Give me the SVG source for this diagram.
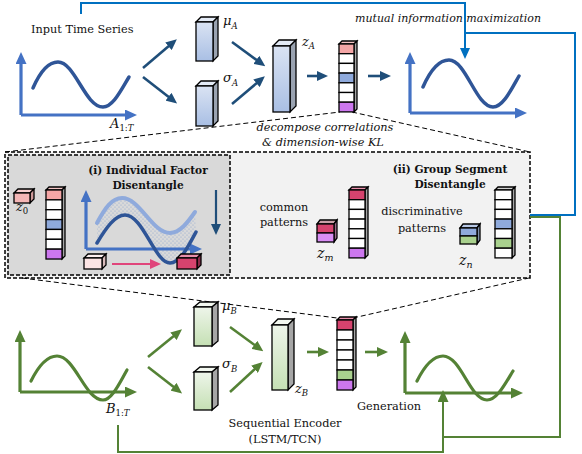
<svg xmlns="http://www.w3.org/2000/svg" width="582" height="454" viewBox="0 0 582 454" font-family="DejaVu Serif, serif">
<defs>
<style>
.t{font-size:11.3px;fill:#111}
.it{font-style:italic;fill:#111}
.b{font-weight:bold;font-size:10.6px;fill:#111}
.cell{stroke:#000;stroke-width:1.3}
.edge{stroke:#000;stroke-width:1.3}
.axb{fill:none;stroke:#4472c4;stroke-width:3.2}
.axg{fill:none;stroke:#548235;stroke-width:3.2}
.sinb{fill:none;stroke:#2f5597;stroke-width:3.5;stroke-linecap:round}
.sing{fill:none;stroke:#548235;stroke-width:3.2;stroke-linecap:round}
.ad{fill:none;stroke:#1f4e79;stroke-width:2.6}
.ag{fill:none;stroke:#548235;stroke-width:2.6}
.dash{fill:none;stroke:#000;stroke-width:1;stroke-dasharray:5,3}
</style>
<marker id="mAxB" markerUnits="userSpaceOnUse" markerWidth="12" markerHeight="11" refX="2" refY="5.5" orient="auto"><path d="M0,0 L12,5.5 L0,11 Z" fill="#4472c4"/></marker>
<marker id="mAxG" markerUnits="userSpaceOnUse" markerWidth="12" markerHeight="11" refX="2" refY="5.5" orient="auto"><path d="M0,0 L12,5.5 L0,11 Z" fill="#548235"/></marker>
<marker id="mD" markerUnits="userSpaceOnUse" markerWidth="11" markerHeight="10" refX="2" refY="5" orient="auto"><path d="M0,0 L11,5 L0,10 Z" fill="#1f4e79"/></marker>
<marker id="mG" markerUnits="userSpaceOnUse" markerWidth="11" markerHeight="10" refX="2" refY="5" orient="auto"><path d="M0,0 L11,5 L0,10 Z" fill="#548235"/></marker>
<marker id="mFB" markerUnits="userSpaceOnUse" markerWidth="11" markerHeight="10" refX="2" refY="5" orient="auto"><path d="M0,0 L11,5 L0,10 Z" fill="#0070c0"/></marker>
<marker id="mFG" markerUnits="userSpaceOnUse" markerWidth="12" markerHeight="11" refX="2" refY="5.5" orient="auto"><path d="M0,0 L12,5.5 L0,11 Z" fill="#548235"/></marker>
<marker id="mP" markerUnits="userSpaceOnUse" markerWidth="11" markerHeight="10" refX="2" refY="5" orient="auto"><path d="M0,0 L11,5 L0,10 Z" fill="#e0457b"/></marker>
<linearGradient id="gB" x1="0" y1="0" x2="0" y2="1"><stop offset="0" stop-color="#dae3f3"/><stop offset="1" stop-color="#a9bfe4"/></linearGradient>
<linearGradient id="gG" x1="0" y1="0" x2="0" y2="1"><stop offset="0" stop-color="#eef5ea"/><stop offset="1" stop-color="#c5e0b4"/></linearGradient>
<pattern id="dots" width="4" height="4" patternUnits="userSpaceOnUse"><circle cx="1" cy="1" r="0.55" fill="#4472c4"/><circle cx="3" cy="3" r="0.55" fill="#4472c4"/></pattern>
</defs>

<!-- middle box -->
<g id="middle-box">
<rect x="5" y="152" width="525" height="126" fill="#f2f2f2" stroke="#000" stroke-width="1.5" stroke-dasharray="4,2"/>
<rect x="8" y="155" width="222" height="120" fill="#d9d9d9" stroke="#000" stroke-width="1.5" stroke-dasharray="4,2"/>
</g>

<!-- trapezoid guide lines -->
<g id="guides">
<path class="dash" d="M5,152 L340,112"/>
<path class="dash" d="M352,112 L530,152"/>
<path class="dash" d="M22,278 L337,318"/>
<path class="dash" d="M353,318 L529,278"/>
</g>

<g id="connectors">
<path d="M81,14 L81,3 L465,3 L465,50" fill="none" stroke="#0070c0" stroke-width="2" marker-end="url(#mFB)"/>
<path d="M530,215 L575,215 L575,33 L465,33" fill="none" stroke="#0070c0" stroke-width="2"/>
<path d="M118,425 L118,452 L443,452 L443,400" fill="none" stroke="#548235" stroke-width="2" marker-end="url(#mFG)"/>
<path d="M530,217 L560,217 L560,437 L443,437" fill="none" stroke="#548235" stroke-width="2"/>
<path class="ad" d="M143,68 L170,45" marker-end="url(#mD)"/>
<path class="ad" d="M143,77 L170,98" marker-end="url(#mD)"/>
<path class="ad" d="M232,42 L258,61" marker-end="url(#mD)"/>
<path class="ad" d="M232,104 L258,82" marker-end="url(#mD)"/>
<path class="ad" d="M307,76 L319,76" marker-end="url(#mD)"/>
<path class="ad" d="M368,76 L382,76" marker-end="url(#mD)"/>
<path class="ag" d="M148,357 L175,335" marker-end="url(#mG)"/>
<path class="ag" d="M148,367 L175,388" marker-end="url(#mG)"/>
<path class="ag" d="M230,327 L256,346" marker-end="url(#mG)"/>
<path class="ag" d="M230,392 L256,368" marker-end="url(#mG)"/>
<path class="ag" d="M307,352 L320,352" marker-end="url(#mG)"/>
<path class="ag" d="M365,352 L379,352" marker-end="url(#mG)"/>
</g>

<!-- input series A -->
<g id="input-A">
<text class="t" x="31" y="33">Input Time Series</text>
<path class="axb" d="M21,115 L21,62" marker-end="url(#mAxB)"/>
<path class="axb" d="M21,115 L127,115" marker-end="url(#mAxB)"/>
<path class="sinb" d="M33,88 C40,72 48,62 58,62 C75,62 85,107 103,107 C113,107 121,90 129,77"/>
<text class="it" x="110" y="128" font-size="13">A<tspan font-size="8.5" dy="3" font-style="normal">1:</tspan><tspan font-size="8.5">T</tspan></text>
</g>

<g id="muA">
<path class="edge" d="M196,22 L201,17 L218,17 L213,22 Z" fill="#e4ebf6"/>
<path class="edge" d="M213,22 L218,17 L218,56 L213,61 Z" fill="#9aa3b1"/>
<rect class="edge" x="196" y="22" width="17" height="39" fill="url(#gB)"/>
<text class="it" x="223" y="25" font-size="13">μ<tspan font-size="8.5" dy="4">A</tspan></text>
</g>
<g id="sigmaA">
<path class="edge" d="M196,86 L201,81 L218,81 L213,86 Z" fill="#e4ebf6"/>
<path class="edge" d="M213,86 L218,81 L218,121 L213,126 Z" fill="#9aa3b1"/>
<rect class="edge" x="196" y="86" width="17" height="40" fill="url(#gB)"/>
<text class="it" x="223" y="82" font-size="13">σ<tspan font-size="8.5" dy="4">A</tspan></text>
</g>
<g id="zA">
<path class="edge" d="M273,46 L279,40 L296,40 L290,46 Z" fill="#e4ebf6"/>
<path class="edge" d="M290,46 L296,40 L296,106 L290,112 Z" fill="#9aa3b1"/>
<rect class="edge" x="273" y="46" width="17" height="66" fill="url(#gB)"/>
<text class="it" x="302" y="46" font-size="13">z<tspan font-size="8.5" dy="3">A</tspan></text>
</g>
<g id="latentA">
<path class="edge" d="M339,44 L342,41 L357,41 L354,44 Z" fill="#f2c4c4"/>
<path class="edge" d="M354,44 L357,41 L357,109 L354,112 Z" fill="#a6a6a6"/>
<rect class="cell" x="339" y="44" width="15" height="9.7" fill="#f4a6a6"/>
<rect class="cell" x="339" y="53.7" width="15" height="9.7" fill="#fff"/>
<rect class="cell" x="339" y="63.4" width="15" height="9.7" fill="#fff"/>
<rect class="cell" x="339" y="73.1" width="15" height="9.7" fill="#8faadc"/>
<rect class="cell" x="339" y="82.8" width="15" height="9.7" fill="#fff"/>
<rect class="cell" x="339" y="92.5" width="15" height="9.7" fill="#fff"/>
<rect class="cell" x="339" y="102.2" width="15" height="9.7" fill="#cc77ee"/>
</g>
<g id="output-A">
<text class="it" x="541" y="22" font-size="11" text-anchor="end">mutual information maximization</text>
<path class="axb" d="M410,113 L410,62" marker-end="url(#mAxB)"/>
<path class="axb" d="M410,113 L517,113" marker-end="url(#mAxB)"/>
<path class="sinb" d="M423,87 C430,71 439,60 449,60 C466,60 476,107 493,107 C503,107 511,90 519,76"/>
</g>
<g id="decompose-label">
<text class="it" x="325" y="131" font-size="11.3" text-anchor="middle">decompose correlations</text>
<text class="it" x="323" y="146" font-size="11.3" text-anchor="middle">&amp; dimension-wise KL</text>
</g>

<!-- (i) individual factor -->
<g id="individual-factor">
<text class="b" x="148" y="174" text-anchor="middle">(i) Individual Factor</text>
<text class="b" x="148" y="189" text-anchor="middle">Disentangle</text>
<path class="edge" d="M14,193 L18,189 L34,189 L30,193 Z" fill="#f8d0d0"/>
<path class="edge" d="M30,193 L34,189 L34,199 L30,203 Z" fill="#c99"/>
<rect class="edge" x="14" y="193" width="16" height="10" fill="#f4b6b6"/>
<text class="it" x="16" y="211" font-size="13">z<tspan font-size="8.5" dy="3" font-style="normal">0</tspan></text>
<path class="edge" d="M46,190 L49,187 L65,187 L62,190 Z" fill="#f2c4c4"/>
<path class="edge" d="M62,190 L65,187 L65,256 L62,259 Z" fill="#a6a6a6"/>
<rect class="cell" x="46" y="190" width="16" height="9.86" fill="#f4a6a6"/>
<rect class="cell" x="46" y="199.86" width="16" height="9.86" fill="#fff"/>
<rect class="cell" x="46" y="209.72" width="16" height="9.86" fill="#fff"/>
<rect class="cell" x="46" y="219.58" width="16" height="9.86" fill="#8faadc"/>
<rect class="cell" x="46" y="229.44" width="16" height="9.86" fill="#fff"/>
<rect class="cell" x="46" y="239.3" width="16" height="9.86" fill="#fff"/>
<rect class="cell" x="46" y="249.16" width="16" height="9.86" fill="#cc77ee"/>
<path d="M97,223 C105,208 112,198 122,198 C140,198 152,233 170,233 C180,233 188,222 195,212 L196,232 C188,247 180,263 170,263 C155,263 143,215 125,215 C115,215 106,228 97,243 Z" fill="url(#dots)" opacity="0.55"/>
<path d="M97,223 C105,208 112,198 122,198 C140,198 152,233 170,233 C180,233 188,222 195,212" fill="none" stroke="#8faadc" stroke-width="4" stroke-linecap="round"/>
<path class="axb" d="M86,249 L86,200" marker-end="url(#mAxB)"/>
<path class="axb" d="M86,249 L192,249" marker-end="url(#mAxB)"/>
<path class="sinb" d="M97,243 C106,228 115,215 125,215 C143,215 155,263 170,263 C180,263 188,247 196,232"/>
<path d="M216,190 L216,226" fill="none" stroke="#1f4e79" stroke-width="2.2" marker-end="url(#mD)"/>
<path class="edge" d="M84,258 L88,254 L106,254 L102,258 Z" fill="#fdf0f0"/>
<path class="edge" d="M102,258 L106,254 L106,265 L102,269 Z" fill="#d9bcbc"/>
<rect class="edge" x="84" y="258" width="18" height="11" fill="#fce4e4"/>
<path d="M112,264 L152,264" fill="none" stroke="#e0457b" stroke-width="2" marker-end="url(#mP)"/>
<path class="edge" d="M177,258 L181,254 L201,254 L197,258 Z" fill="#e98fab"/>
<path class="edge" d="M197,258 L201,254 L201,265 L197,269 Z" fill="#8a2a48"/>
<rect class="edge" x="177" y="258" width="20" height="11" fill="#d6436e"/>
</g>

<!-- (ii) group segment -->
<g id="group-segment">
<text class="b" x="450" y="173" text-anchor="middle">(ii) Group Segment</text>
<text class="b" x="450" y="188" text-anchor="middle">Disentangle</text>
<text class="t" x="284" y="211" text-anchor="middle">common</text>
<text class="t" x="284" y="226" text-anchor="middle">patterns</text>
<path class="edge" d="M317,224 L320,220 L337,220 L334,224 Z" fill="#c9a0a8"/>
<path class="edge" d="M334,224 L337,220 L337,238 L334,242 Z" fill="#9a6a8a"/>
<rect class="cell" x="317" y="224" width="17" height="9" fill="#d6436e"/>
<rect class="cell" x="317" y="233" width="17" height="9" fill="#d98ef5"/>
<text class="it" x="317" y="258" font-size="14">z<tspan font-size="9.5" dy="3">m</tspan></text>
<path class="edge" d="M349,190 L352,187 L368,187 L365,190 Z" fill="#e98fab"/>
<path class="edge" d="M365,190 L368,187 L368,255 L365,258 Z" fill="#a6a6a6"/>
<rect class="cell" x="349" y="190" width="16" height="9.7" fill="#d6436e"/>
<rect class="cell" x="349" y="199.7" width="16" height="9.7" fill="#fff"/>
<rect class="cell" x="349" y="209.4" width="16" height="9.7" fill="#fff"/>
<rect class="cell" x="349" y="219.1" width="16" height="9.7" fill="#fff"/>
<rect class="cell" x="349" y="228.8" width="16" height="9.7" fill="#fff"/>
<rect class="cell" x="349" y="238.5" width="16" height="9.7" fill="#fff"/>
<rect class="cell" x="349" y="248.2" width="16" height="9.7" fill="#cc77ee"/>
<text class="t" x="422" y="215" text-anchor="middle">discriminative</text>
<text class="t" x="422" y="232" text-anchor="middle">patterns</text>
<path class="edge" d="M460,228 L463,224 L480,224 L477,228 Z" fill="#b8c8e6"/>
<path class="edge" d="M477,228 L480,224 L480,240 L477,244 Z" fill="#7f8fa8"/>
<rect class="cell" x="460" y="228" width="17" height="8" fill="#8faadc"/>
<rect class="cell" x="460" y="236" width="17" height="8" fill="#a9d18e"/>
<text class="it" x="459" y="265" font-size="14">z<tspan font-size="9.5" dy="3">n</tspan></text>
<path class="edge" d="M495,190 L498,187 L515,187 L512,190 Z" fill="#d0d0d0"/>
<path class="edge" d="M512,190 L515,187 L515,255 L512,258 Z" fill="#a6a6a6"/>
<rect class="cell" x="495" y="190" width="17" height="9.7" fill="#fff"/>
<rect class="cell" x="495" y="199.7" width="17" height="9.7" fill="#fff"/>
<rect class="cell" x="495" y="209.4" width="17" height="9.7" fill="#fff"/>
<rect class="cell" x="495" y="219.1" width="17" height="9.7" fill="#8faadc"/>
<rect class="cell" x="495" y="228.8" width="17" height="9.7" fill="#fff"/>
<rect class="cell" x="495" y="238.5" width="17" height="9.7" fill="#a9d18e"/>
<rect class="cell" x="495" y="248.2" width="17" height="9.7" fill="#fff"/>
</g>

<!-- input series B -->
<g id="input-B">
<path class="axg" d="M20,392 L20,340" marker-end="url(#mAxG)"/>
<path class="axg" d="M20,392 L127,392" marker-end="url(#mAxG)"/>
<path class="sing" d="M31,381 C38,367 47,356 57,356 C75,356 85,400 103,400 C112,400 120,382 127,370"/>
<text class="it" x="106" y="413" font-size="13">B<tspan font-size="8.5" dy="3" font-style="normal">1:</tspan><tspan font-size="8.5">T</tspan></text>
</g>
<g id="muB">
<path class="edge" d="M194,307 L200,302 L218,302 L212,307 Z" fill="#f3f8f0"/>
<path class="edge" d="M212,307 L218,302 L218,341 L212,346 Z" fill="#a6a6a6"/>
<rect class="edge" x="194" y="307" width="18" height="39" fill="url(#gG)"/>
<text class="it" x="222" y="310" font-size="13">μ<tspan font-size="8.5" dy="4">B</tspan></text>
</g>
<g id="sigmaB">
<path class="edge" d="M194,372 L200,367 L218,367 L212,372 Z" fill="#f3f8f0"/>
<path class="edge" d="M212,372 L218,367 L218,405 L212,410 Z" fill="#a6a6a6"/>
<rect class="edge" x="194" y="372" width="18" height="38" fill="url(#gG)"/>
<text class="it" x="222" y="368" font-size="13">σ<tspan font-size="8.5" dy="4">B</tspan></text>
</g>
<g id="zB">
<path class="edge" d="M272,325 L278,319 L294,319 L288,325 Z" fill="#f3f8f0"/>
<path class="edge" d="M288,325 L294,319 L294,384 L288,390 Z" fill="#a6a6a6"/>
<rect class="edge" x="272" y="325" width="16" height="65" fill="url(#gG)"/>
<text class="it" x="295" y="393" font-size="13">z<tspan font-size="8.5" dy="3">B</tspan></text>
</g>
<g id="latentB">
<path class="edge" d="M337,320 L340,317 L356,317 L353,320 Z" fill="#e98fab"/>
<path class="edge" d="M353,320 L356,317 L356,387 L353,390 Z" fill="#a6a6a6"/>
<rect class="cell" x="337" y="320" width="16" height="10" fill="#d6436e"/>
<rect class="cell" x="337" y="330" width="16" height="10" fill="#fff"/>
<rect class="cell" x="337" y="340" width="16" height="10" fill="#fff"/>
<rect class="cell" x="337" y="350" width="16" height="10" fill="#fff"/>
<rect class="cell" x="337" y="360" width="16" height="10" fill="#fff"/>
<rect class="cell" x="337" y="370" width="16" height="10" fill="#a9d18e"/>
<rect class="cell" x="337" y="380" width="16" height="10" fill="#cc77ee"/>
</g>
<g id="encoder-label">
<text class="t" x="285" y="427" text-anchor="middle">Sequential Encoder</text>
<text class="t" x="285" y="443" text-anchor="middle">(LSTM/TCN)</text>
</g>
<g id="output-B">
<text class="t" x="357" y="410">Generation</text>
<path class="axg" d="M405,393 L405,341" marker-end="url(#mAxG)"/>
<path class="axg" d="M405,393 L513,393" marker-end="url(#mAxG)"/>
<path class="sing" d="M417,381 C424,367 433,356 443,356 C461,356 470,400 487,400 C497,400 505,384 513,371"/>
</g>
</svg>
